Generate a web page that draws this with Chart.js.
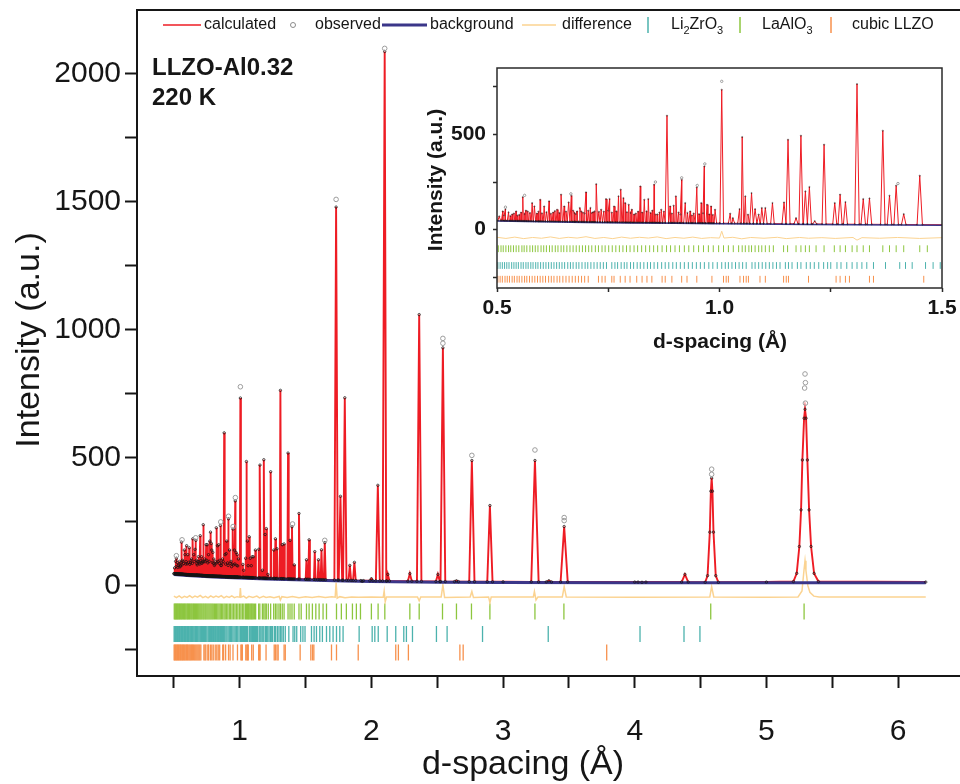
<!DOCTYPE html>
<html lang="en">
<head>
  <meta charset="UTF-8">
  <title>LLZO-Al0.32 220 K</title>
  <script src="https://cdn.jsdelivr.net/npm/chart.js"></script>
  <style>
    html, body { margin: 0; padding: 0; background: #fff; }
    #wrap { position: relative; width: 960px; height: 784px; }
    #mainChart { position: absolute; left: 0; top: 0; }
    #insetChart { position: absolute; left: 400px; top: 55px; }
  </style>
</head>
<body>
  <div id="wrap">
    <canvas id="mainChart" width="960" height="784"></canvas>
    <canvas id="insetChart" width="560" height="305"></canvas>
  </div>

  <script>
    // ---- data ----
    // peaks of the calculated profile: position (Å), top intensity, half base width (Å)
    const peakD = [
      0.513, 0.519, 0.526, 0.534, 0.543, 0.550, 0.558, 0.569, 0.579, 0.584,
      0.590, 0.597, 0.606, 0.617, 0.626, 0.635, 0.644, 0.651, 0.661, 0.667,
      0.674, 0.680, 0.686, 0.693, 0.700, 0.710, 0.716, 0.723, 0.734, 0.740,
      0.745, 0.753, 0.763, 0.773, 0.778, 0.784, 0.788, 0.796, 0.803, 0.812,
      0.822, 0.831, 0.840, 0.853, 0.861, 0.869, 0.882, 0.889, 0.897, 0.902,
      0.908, 0.915, 0.923, 0.934, 0.942, 0.949, 0.959, 0.966, 0.972, 0.981,
      0.990, 1.005, 1.024, 1.030, 1.045, 1.051, 1.058, 1.064, 1.072, 1.080,
      1.088, 1.095, 1.103, 1.119, 1.145, 1.154, 1.172, 1.183, 1.193, 1.202,
      1.214, 1.235, 1.259, 1.271, 1.283, 1.309, 1.323, 1.337, 1.367, 1.382,
      1.397, 1.414, 1.450, 1.507, 1.527, 1.570, 1.598, 1.621, 1.646, 1.732,
      1.765, 1.798, 1.836, 1.871, 1.930, 2.000, 2.049, 2.101, 2.125, 2.292,
      2.363, 2.505, 2.543, 2.646, 2.763, 2.900, 3.242, 3.348, 3.464, 4.055,
      4.381
    ];
    const peakTop = [
      96, 108, 91, 80, 96, 78, 171, 96, 140, 122,
      85, 157, 122, 149, 90, 105, 184, 122, 143, 178,
      88, 96, 114, 90, 196, 114, 92, 239, 105, 95,
      161, 161, 122, 175, 210, 166, 140, 131, 105, 85,
      227, 157, 161, 236, 80, 105, 598, 122, 126, 175,
      90, 262, 140, 96, 85, 222, 140, 332, 131, 122,
      105, 734, 84, 61, 108, 486, 175, 79, 192, 108,
      79, 114, 114, 140, 143, 472, 61, 493, 201, 224,
      45, 446, 140, 184, 145, 764, 161, 164, 519, 178,
      231, 82, 283, 102, 180, 134, 102, 141, 169, 1480,
      350, 735, 80, 92, 18, 28, 393, 2088, 45, 48,
      1060, 45, 930, 20, 490, 314, 490, 20, 232, 14,
      45
    ];
    const peakW = [
      0.003, 0.003, 0.003, 0.003, 0.003, 0.003, 0.003, 0.003, 0.003, 0.003,
      0.003, 0.003, 0.003, 0.003, 0.003, 0.003, 0.003, 0.003, 0.003, 0.003,
      0.003, 0.003, 0.003, 0.003, 0.003, 0.003, 0.003, 0.003, 0.003, 0.003,
      0.0035, 0.0035, 0.0035, 0.0035, 0.0035, 0.0035, 0.0035, 0.0035, 0.0035, 0.0035,
      0.0035, 0.0035, 0.0035, 0.0035, 0.0035, 0.0035, 0.004, 0.0035, 0.0035, 0.0035,
      0.0035, 0.0035, 0.0035, 0.0035, 0.0035, 0.0035, 0.0035, 0.0035, 0.0035, 0.0035,
      0.0035, 0.004, 0.004, 0.004, 0.004, 0.0045, 0.004, 0.004, 0.004, 0.004,
      0.004, 0.004, 0.004, 0.004, 0.0045, 0.0045, 0.0045, 0.0045, 0.0045, 0.0045,
      0.0045, 0.0045, 0.0045, 0.0045, 0.0045, 0.005, 0.005, 0.005, 0.005, 0.005,
      0.005, 0.005, 0.006, 0.006, 0.006, 0.006, 0.006, 0.006, 0.007, 0.013,
      0.013, 0.013, 0.01, 0.01, 0.01, 0.012, 0.015, 0.016, 0.012, 0.015,
      0.017, 0.015, 0.018, 0.015, 0.02, 0.02, 0.028, 0.02, 0.027, 0.03,
      0.025
    ];
    // weak reflections filling the low d-spacing region (half base width 0.003 Å)
    const smallD = [
      0.505, 0.516, 0.530, 0.538, 0.546, 0.554, 0.562, 0.565, 0.574, 0.593,
      0.601, 0.611, 0.621, 0.630, 0.640, 0.655, 0.671, 0.677, 0.689, 0.697,
      0.705, 0.713, 0.719, 0.729, 0.750, 0.758, 0.768, 0.792, 0.800, 0.808,
      0.817, 0.826, 0.836, 0.845, 0.849, 0.857, 0.865, 0.875, 0.893, 0.912,
      0.928, 0.938, 0.954, 0.963, 0.977, 0.985
    ];
    const smallTop = [
      70, 75, 72, 85, 74, 90, 82, 100, 88, 95,
      86, 92, 84, 98, 88, 95, 100, 82, 95, 85,
      100, 88, 96, 94, 100, 90, 96, 92, 88, 80,
      95, 90, 96, 88, 100, 80, 90, 95, 85, 80,
      88, 75, 82, 86, 80, 78
    ];
    const SMALL_W = 0.003;

    // the two broad peaks traced point by point
    const broadD = [4.535, 4.553, 4.570, 4.578, 4.584, 4.590, 4.598, 4.615, 4.635,
      5.205, 5.230, 5.250, 5.263, 5.273, 5.286, 5.293, 5.301, 5.311, 5.324, 5.339, 5.362, 5.395];
    const broadI = [14, 40, 210, 370, 421, 370, 210, 40, 14,
      17, 49, 154, 297, 492, 655, 690, 655, 492, 297, 154, 49, 17];

    // background
    const bgD = [0.5, 0.6, 0.7, 0.8, 0.9, 1.0, 1.2, 1.5, 1.8, 2.0, 2.5, 3.0, 4.0, 5.0, 6.21];
    const bgI = [45, 41, 38, 35, 33, 31, 27, 23, 19, 17, 14, 13, 12, 12, 12];

    // observed points standing above the fit
    const obsD = [0.519, 0.562, 0.666, 0.856, 0.915, 0.950, 0.967, 1.005, 1.401, 1.646, 1.732, 2.101,
      2.543, 2.543, 2.763, 3.242, 3.464, 3.464, 4.584, 4.584, 5.293, 5.296, 5.290, 5.296];
    const obsI = [118, 180, 188, 250, 272, 232, 345, 778, 242, 178, 1510, 2100,
      967, 948, 510, 531, 267, 255, 456, 436, 828, 794, 773, 714];

    // difference curve (already offset below zero)
    const diffD = [0.50, 0.52, 0.54, 0.56, 0.58, 0.60, 0.62, 0.64, 0.66, 0.68, 0.70, 0.72, 0.74, 0.76, 0.78,
      0.80, 0.82, 0.84, 0.86, 0.88, 0.90, 0.92, 0.94, 0.96, 0.98, 1.000, 1.005, 1.010, 1.03, 1.05,
      1.07, 1.10, 1.13, 1.15, 1.18, 1.20, 1.23, 1.26, 1.30, 1.309, 1.32, 1.36, 1.40, 1.45, 1.50,
      1.55, 1.60, 1.65, 1.70, 1.725, 1.732, 1.74, 1.76, 1.80, 1.85, 1.90, 2.00, 2.090, 2.097, 2.105,
      2.115, 2.350, 2.363, 2.375, 2.530, 2.543, 2.556, 2.750, 2.763, 2.775, 2.890, 2.900, 2.910, 3.230, 3.238,
      3.250, 3.265, 3.450, 3.464, 3.480, 4.00, 4.570, 4.584, 4.600, 5.00, 5.240, 5.270, 5.285, 5.293, 5.300,
      5.315, 5.330, 5.360, 5.400, 6.21];
    const diffI = [-40, -46, -39, -47, -41, -45, -38, -46, -40, -44, -37, -46, -41, -47, -39,
      -45, -40, -44, -38, -47, -41, -45, -39, -46, -42, -44, -8, -44, -40, -48,
      -41, -45, -40, -47, -41, -45, -42, -46, -41, -55, -42, -45, -41, -46, -42,
      -45, -41, -45, -42, -44, 13, -48, -42, -46, -43, -44, -43, -44, -20, -62,
      -43, -43, -58, -43, -43, 4, -45, -43, -22, -45, -43, -66, -43, -43, -22,
      -55, -43, -43, -3, -43, -44, -43, -3, -43, -44, -43, -20, 60, 98, 60,
      0, -25, -40, -43, -43];

    // reflection positions (Å) of each phase
    const tickLaAlO3 = [
      0.503, 0.509, 0.514, 0.520, 0.526, 0.531, 0.537, 0.543, 0.549, 0.556, 0.561, 0.567, 0.574, 0.580,
      0.586, 0.592, 0.599, 0.605, 0.611, 0.618, 0.624, 0.631, 0.637, 0.644, 0.650, 0.657, 0.664, 0.671,
      0.678, 0.685, 0.692, 0.699, 0.706, 0.713, 0.721, 0.728, 0.736, 0.743, 0.751, 0.759, 0.767, 0.775,
      0.783, 0.791, 0.799, 0.808, 0.816, 0.825, 0.834, 0.843, 0.852, 0.861, 0.871, 0.881, 0.890, 0.900,
      0.910, 0.921, 0.931, 0.942, 0.953, 0.964, 0.975, 0.986, 0.998, 1.009, 1.020, 1.031, 1.043, 1.051,
      1.058, 1.066, 1.072, 1.080, 1.088, 1.095, 1.103, 1.112, 1.121, 1.144, 1.153, 1.172, 1.183, 1.193,
      1.202, 1.217, 1.235, 1.258, 1.271, 1.283, 1.298, 1.309, 1.323, 1.337, 1.367, 1.382, 1.397, 1.414,
      1.450, 1.467, 1.507, 1.527, 1.552, 1.578, 1.603, 1.633, 1.659, 1.735, 1.772, 1.810, 1.856, 1.886,
      1.917, 2.000, 2.051, 2.102, 2.292, 2.363, 2.540, 2.646, 2.760, 2.900, 3.242, 3.462, 4.577, 5.286
    ];
    const tickLi2ZrO3 = [
      0.502, 0.507, 0.512, 0.517, 0.522, 0.527, 0.533, 0.538, 0.543, 0.548, 0.554, 0.559, 0.565, 0.570,
      0.576, 0.581, 0.587, 0.592, 0.598, 0.604, 0.610, 0.616, 0.622, 0.628, 0.634, 0.640, 0.646, 0.652,
      0.659, 0.665, 0.671, 0.678, 0.684, 0.691, 0.698, 0.704, 0.711, 0.718, 0.725, 0.732, 0.739, 0.746,
      0.758, 0.765, 0.771, 0.779, 0.786, 0.792, 0.800, 0.807, 0.815, 0.822, 0.830, 0.838, 0.845, 0.853,
      0.861, 0.870, 0.878, 0.886, 0.895, 0.903, 0.912, 0.921, 0.930, 0.939, 0.948, 0.957, 0.966, 0.976,
      0.985, 0.995, 1.005, 1.013, 1.020, 1.028, 1.036, 1.044, 1.052, 1.060, 1.073, 1.080, 1.088, 1.096,
      1.104, 1.112, 1.120, 1.128, 1.136, 1.148, 1.155, 1.163, 1.175, 1.183, 1.195, 1.204, 1.213, 1.223,
      1.234, 1.243, 1.250, 1.264, 1.273, 1.286, 1.298, 1.309, 1.320, 1.331, 1.346, 1.373, 1.405, 1.418,
      1.433, 1.463, 1.480, 1.496, 1.545, 1.565, 1.583, 1.608, 1.628, 1.659, 1.684, 1.709, 1.735, 1.760,
      1.785, 1.907, 2.006, 2.026, 2.052, 2.120, 2.185, 2.246, 2.266, 2.312, 2.494, 2.575, 2.844, 3.343,
      4.040, 4.374, 4.495
    ];
    const tickLLZO = [
      0.502, 0.507, 0.512, 0.518, 0.523, 0.528, 0.534, 0.539, 0.545, 0.550, 0.556, 0.562, 0.567, 0.573,
      0.579, 0.585, 0.591, 0.597, 0.603, 0.609, 0.616, 0.622, 0.628, 0.635, 0.641, 0.648, 0.655, 0.662,
      0.669, 0.676, 0.683, 0.690, 0.697, 0.705, 0.728, 0.736, 0.743, 0.758, 0.763, 0.777, 0.788, 0.799,
      0.814, 0.826, 0.837, 0.848, 0.871, 0.878, 0.893, 0.915, 0.927, 0.949, 0.983, 1.009, 1.015, 1.020,
      1.046, 1.054, 1.060, 1.065, 1.091, 1.103, 1.144, 1.150, 1.155, 1.200, 1.262, 1.271, 1.283, 1.292,
      1.337, 1.346, 1.459, 1.540, 1.553, 1.563, 1.697, 1.735, 1.900, 2.185, 2.205, 2.281, 2.672, 2.697,
      3.787
    ];

    // axis ticks
    const mainXTicks = [0.5, 1, 1.5, 2, 2.5, 3, 3.5, 4, 4.5, 5, 5.5, 6];
    const mainYTicks = [-250, 0, 250, 500, 750, 1000, 1250, 1500, 1750, 2000];
    const insetXTicks = [0.5, 0.75, 1, 1.25, 1.5];
    const insetYTicks = [-250, 0, 250, 500, 750];

    // ---- styling ----
    const FONT = "'Liberation Sans', Arial, sans-serif";
    const RED = '#ee1c24';
    const NAVY = '#3b3689';
    const DIFF = '#fbd391';
    const TEAL = '#4cb2ad';
    const GREEN = '#8dc63f';
    const ORANGE = '#f7914d';
    const INK = '#161616';
    // vertical offsets (intensity units) of the reflection rows
    const ROW_GREEN = -100, ROW_TEAL = -188, ROW_ORANGE = -260;

    // ---- build point lists ----
    function bgAt(d) {
      for (let i = 1; i < bgD.length; i++) {
        if (d <= bgD[i]) {
          const t = (d - bgD[i - 1]) / (bgD[i] - bgD[i - 1]);
          return bgI[i - 1] + t * (bgI[i] - bgI[i - 1]);
        }
      }
      return bgI[bgI.length - 1];
    }

    const allD = peakD.concat(smallD);
    const allTop = peakTop.concat(smallTop);
    const allW = peakW.concat(smallD.map(() => SMALL_W));

    const spans = allD.map((d, i) => [d - allW[i], d + allW[i]]);
    spans.push([broadD[0], broadD[8]], [broadD[9], broadD[broadD.length - 1]]);
    const insideSpan = d => spans.some(s => d > s[0] && d < s[1]);

    const calcPts = [];
    allD.forEach((d, i) => {
      const w = allW[i];
      calcPts.push({ x: d - w, y: bgAt(d - w) + 3 }, { x: d, y: allTop[i] }, { x: d + w, y: bgAt(d + w) + 3 });
    });
    broadD.forEach((d, i) => calcPts.push({ x: d, y: broadI[i] }));
    bgD.forEach((d, i) => { if (!insideSpan(d)) calcPts.push({ x: d, y: bgI[i] + 3 }); });
    calcPts.sort((a, b) => a.x - b.x);

    const bgPts = bgD.map((d, i) => ({ x: d, y: bgI[i] }));
    const obsPts = calcPts.map(p => ({ x: p.x, y: p.y }));
    const obsTopPts = obsD.map((d, i) => ({ x: d, y: obsI[i] }));
    const diffPts = diffD.map((d, i) => ({ x: d, y: diffI[i] }));
    const greenPts = tickLaAlO3.map(d => ({ x: d, y: ROW_GREEN }));
    const tealPts = tickLi2ZrO3.map(d => ({ x: d, y: ROW_TEAL }));
    const orangePts = tickLLZO.map(d => ({ x: d, y: ROW_ORANGE }));

    function makeDatasets(s) {
      const tick = (label, data, color) => ({
        label, data, pointStyle: 'line', pointRotation: 90, pointRadius: s.tickR,
        pointBorderColor: color, pointBorderWidth: s.tickW, order: 6
      });
      return [
        { label: 'calculated', data: calcPts, showLine: true, borderColor: RED, borderWidth: s.calcW, pointRadius: 0, order: 3 },
        { label: 'background', data: bgPts, showLine: true, borderColor: NAVY, borderWidth: s.bgW, pointRadius: 0, order: 2 },
        { label: 'observed', data: obsPts, pointRadius: s.obsR, pointBorderWidth: s.obsBW,
          pointBorderColor: 'rgba(20,20,20,0.8)', pointBackgroundColor: 'rgba(0,0,0,0)', order: 1 },
        { label: 'observed top', data: obsTopPts, pointRadius: s.topR, pointBorderWidth: 1,
          pointBorderColor: '#9c9c9c', pointBackgroundColor: 'rgba(255,255,255,0)', order: 0 },
        { label: 'difference', data: diffPts, showLine: true, borderColor: DIFF, borderWidth: s.diffW, pointRadius: 0, order: 4 },
        tick('LaAlO3', greenPts, GREEN),
        tick('Li2ZrO3', tealPts, TEAL),
        tick('cubic LLZO', orangePts, ORANGE)
      ];
    }

    // legend along the top of the main frame
    const legendItems = [
      { kind: 'line', color: RED, w: 1.5, x0: 163, x1: 201, tx: 204, text: [['calculated']] },
      { kind: 'circle', x0: 293, tx: 315, text: [['observed']] },
      { kind: 'line', color: NAVY, w: 3, x0: 382, x1: 427, tx: 430, text: [['background']] },
      { kind: 'line', color: DIFF, w: 1.5, x0: 522, x1: 556, tx: 562, text: [['difference']] },
      { kind: 'tick', color: TEAL, x0: 648, tx: 671, text: [['Li'], ['2', 1], ['ZrO'], ['3', 1]] },
      { kind: 'tick', color: GREEN, x0: 740, tx: 762, text: [['LaAlO'], ['3', 1]] },
      { kind: 'tick', color: ORANGE, x0: 831, tx: 852, text: [['cubic LLZO']] }
    ];

    function drawLegend(ctx) {
      const y = 25;
      legendItems.forEach(it => {
        ctx.beginPath();
        if (it.kind === 'line') {
          ctx.strokeStyle = it.color; ctx.lineWidth = it.w;
          ctx.moveTo(it.x0, y); ctx.lineTo(it.x1, y); ctx.stroke();
        } else if (it.kind === 'circle') {
          ctx.strokeStyle = '#8a8a8a'; ctx.lineWidth = 1;
          ctx.arc(it.x0, y, 2.5, 0, Math.PI * 2); ctx.stroke();
        } else {
          ctx.strokeStyle = it.color; ctx.lineWidth = 1.5;
          ctx.moveTo(it.x0, y - 8); ctx.lineTo(it.x0, y + 8); ctx.stroke();
        }
        let x = it.tx;
        ctx.fillStyle = INK; ctx.textAlign = 'left'; ctx.textBaseline = 'middle';
        it.text.forEach(([str, sub]) => {
          ctx.font = sub ? `11px ${FONT}` : `16px ${FONT}`;
          ctx.fillText(str, x, sub ? y + 6 : y);
          x += ctx.measureText(str).width;
        });
      });
    }

    const mainDecor = {
      id: 'mainDecor',
      afterDraw(chart) {
        const { ctx, chartArea: a } = chart;
        ctx.save();
        ctx.strokeStyle = INK; ctx.lineWidth = 2;
        ctx.beginPath(); ctx.moveTo(a.left - 1, a.top); ctx.lineTo(a.right, a.top); ctx.stroke();

        ctx.fillStyle = INK; ctx.textAlign = 'left'; ctx.textBaseline = 'alphabetic';
        ctx.font = `bold 24px ${FONT}`;
        ctx.fillText('LLZO-Al0.32', 152, 75);
        ctx.fillText('220 K', 152, 105);

        ctx.font = `34px ${FONT}`; ctx.textAlign = 'center'; ctx.textBaseline = 'middle';
        ctx.fillText('d-spacing (Å)', 523, 765);
        ctx.save(); ctx.translate(30, 340); ctx.rotate(-Math.PI / 2);
        ctx.fillText('Intensity (a.u.)', 0, 0); ctx.restore();

        drawLegend(ctx);
        ctx.restore();
      }
    };

    const insetDecor = {
      id: 'insetDecor',
      afterDraw(chart) {
        const { ctx, chartArea: a } = chart;
        ctx.save();
        ctx.strokeStyle = '#2a2a2a'; ctx.lineWidth = 1.5;
        ctx.strokeRect(a.left, a.top, a.right - a.left, a.bottom - a.top);
        ctx.fillStyle = INK; ctx.font = `bold 21px ${FONT}`;
        ctx.textAlign = 'center'; ctx.textBaseline = 'middle';
        ctx.fillText('d-spacing (Å)', 320, 287);
        ctx.save(); ctx.translate(36, 125); ctx.rotate(-Math.PI / 2);
        ctx.fillText('Intensity (a.u.)', 0, 0); ctx.restore();
        ctx.restore();
      }
    };

    // fixed axis boxes so the plot area lands where the original has it
    const fitX = h => s => { s.height = h; s.paddingLeft = 0; s.paddingRight = 0; };
    const fitY = w => s => { s.width = w; s.paddingTop = 0; s.paddingBottom = 0; };

    // ---- main chart ----
    new Chart(document.getElementById('mainChart').getContext('2d'), {
      type: 'scatter',
      data: {
        datasets: makeDatasets({ calcW: 1.9, bgW: 3, obsR: 1.2, obsBW: 0.9, topR: 2.3, diffW: 1.5, tickR: 8, tickW: 1.3 })
      },
      options: {
        responsive: false,
        animation: false,
        events: [],
        layout: { autoPadding: false, padding: { top: 10, left: 0, right: 0, bottom: 0 } },
        plugins: { legend: { display: false }, tooltip: { enabled: false } },
        scales: {
          x: {
            type: 'linear', min: 0.22, max: 6.47,
            afterBuildTicks: s => { s.ticks = mainXTicks.map(v => ({ value: v })); },
            afterFit: fitX(108),
            ticks: {
              autoSkip: false, maxRotation: 0, padding: 26, color: INK,
              font: { family: FONT, size: 30 },
              callback: v => (Number.isInteger(v) ? String(v) : '')
            },
            grid: { drawOnChartArea: false, tickLength: 12, tickWidth: 2, tickColor: INK },
            border: { color: INK, width: 2 }
          },
          y: {
            type: 'linear', min: -352, max: 2250,
            afterBuildTicks: s => { s.ticks = mainYTicks.map(v => ({ value: v })); },
            afterFit: fitY(137),
            ticks: {
              autoSkip: false, padding: 4, color: INK,
              font: { family: FONT, size: 30 },
              callback: v => (v % 500 === 0 ? String(v) : '')
            },
            grid: { drawOnChartArea: false, tickLength: 12, tickWidth: 2, tickColor: INK },
            border: { color: INK, width: 2 }
          }
        }
      },
      plugins: [mainDecor]
    });

    // ---- inset: zoom on 0.5 - 1.5 Å ----
    new Chart(document.getElementById('insetChart').getContext('2d'), {
      type: 'scatter',
      data: {
        datasets: makeDatasets({ calcW: 1, bgW: 1.5, obsR: 0.6, obsBW: 0.6, topR: 1.2, diffW: 1, tickR: 3.4, tickW: 1 })
      },
      options: {
        responsive: false,
        animation: false,
        events: [],
        layout: { autoPadding: false, padding: { top: 13, left: 0, right: 18, bottom: 0 } },
        plugins: { legend: { display: false }, tooltip: { enabled: false } },
        scales: {
          x: {
            type: 'linear', min: 0.5, max: 1.5,
            afterBuildTicks: s => { s.ticks = insetXTicks.map(v => ({ value: v })); },
            afterFit: fitX(72),
            ticks: {
              autoSkip: false, maxRotation: 0, padding: 4, color: INK,
              font: { family: FONT, size: 21, weight: 'bold' },
              callback: v => ([0.5, 1, 1.5].includes(v) ? v.toFixed(1) : '')
            },
            grid: { drawOnChartArea: false, tickLength: 4, tickWidth: 1.5, tickColor: '#2a2a2a' },
            border: { display: false }
          },
          y: {
            type: 'linear', min: -306, max: 848,
            afterBuildTicks: s => { s.ticks = insetYTicks.map(v => ({ value: v })); },
            afterFit: fitY(97),
            ticks: {
              autoSkip: false, padding: 7, color: INK,
              font: { family: FONT, size: 21, weight: 'bold' },
              callback: v => (v === 0 || v === 500 ? String(v) : '')
            },
            grid: { drawOnChartArea: false, tickLength: 4, tickWidth: 1.5, tickColor: '#2a2a2a' },
            border: { display: false }
          }
        }
      },
      plugins: [insetDecor]
    });
  </script>
</body>
</html>
